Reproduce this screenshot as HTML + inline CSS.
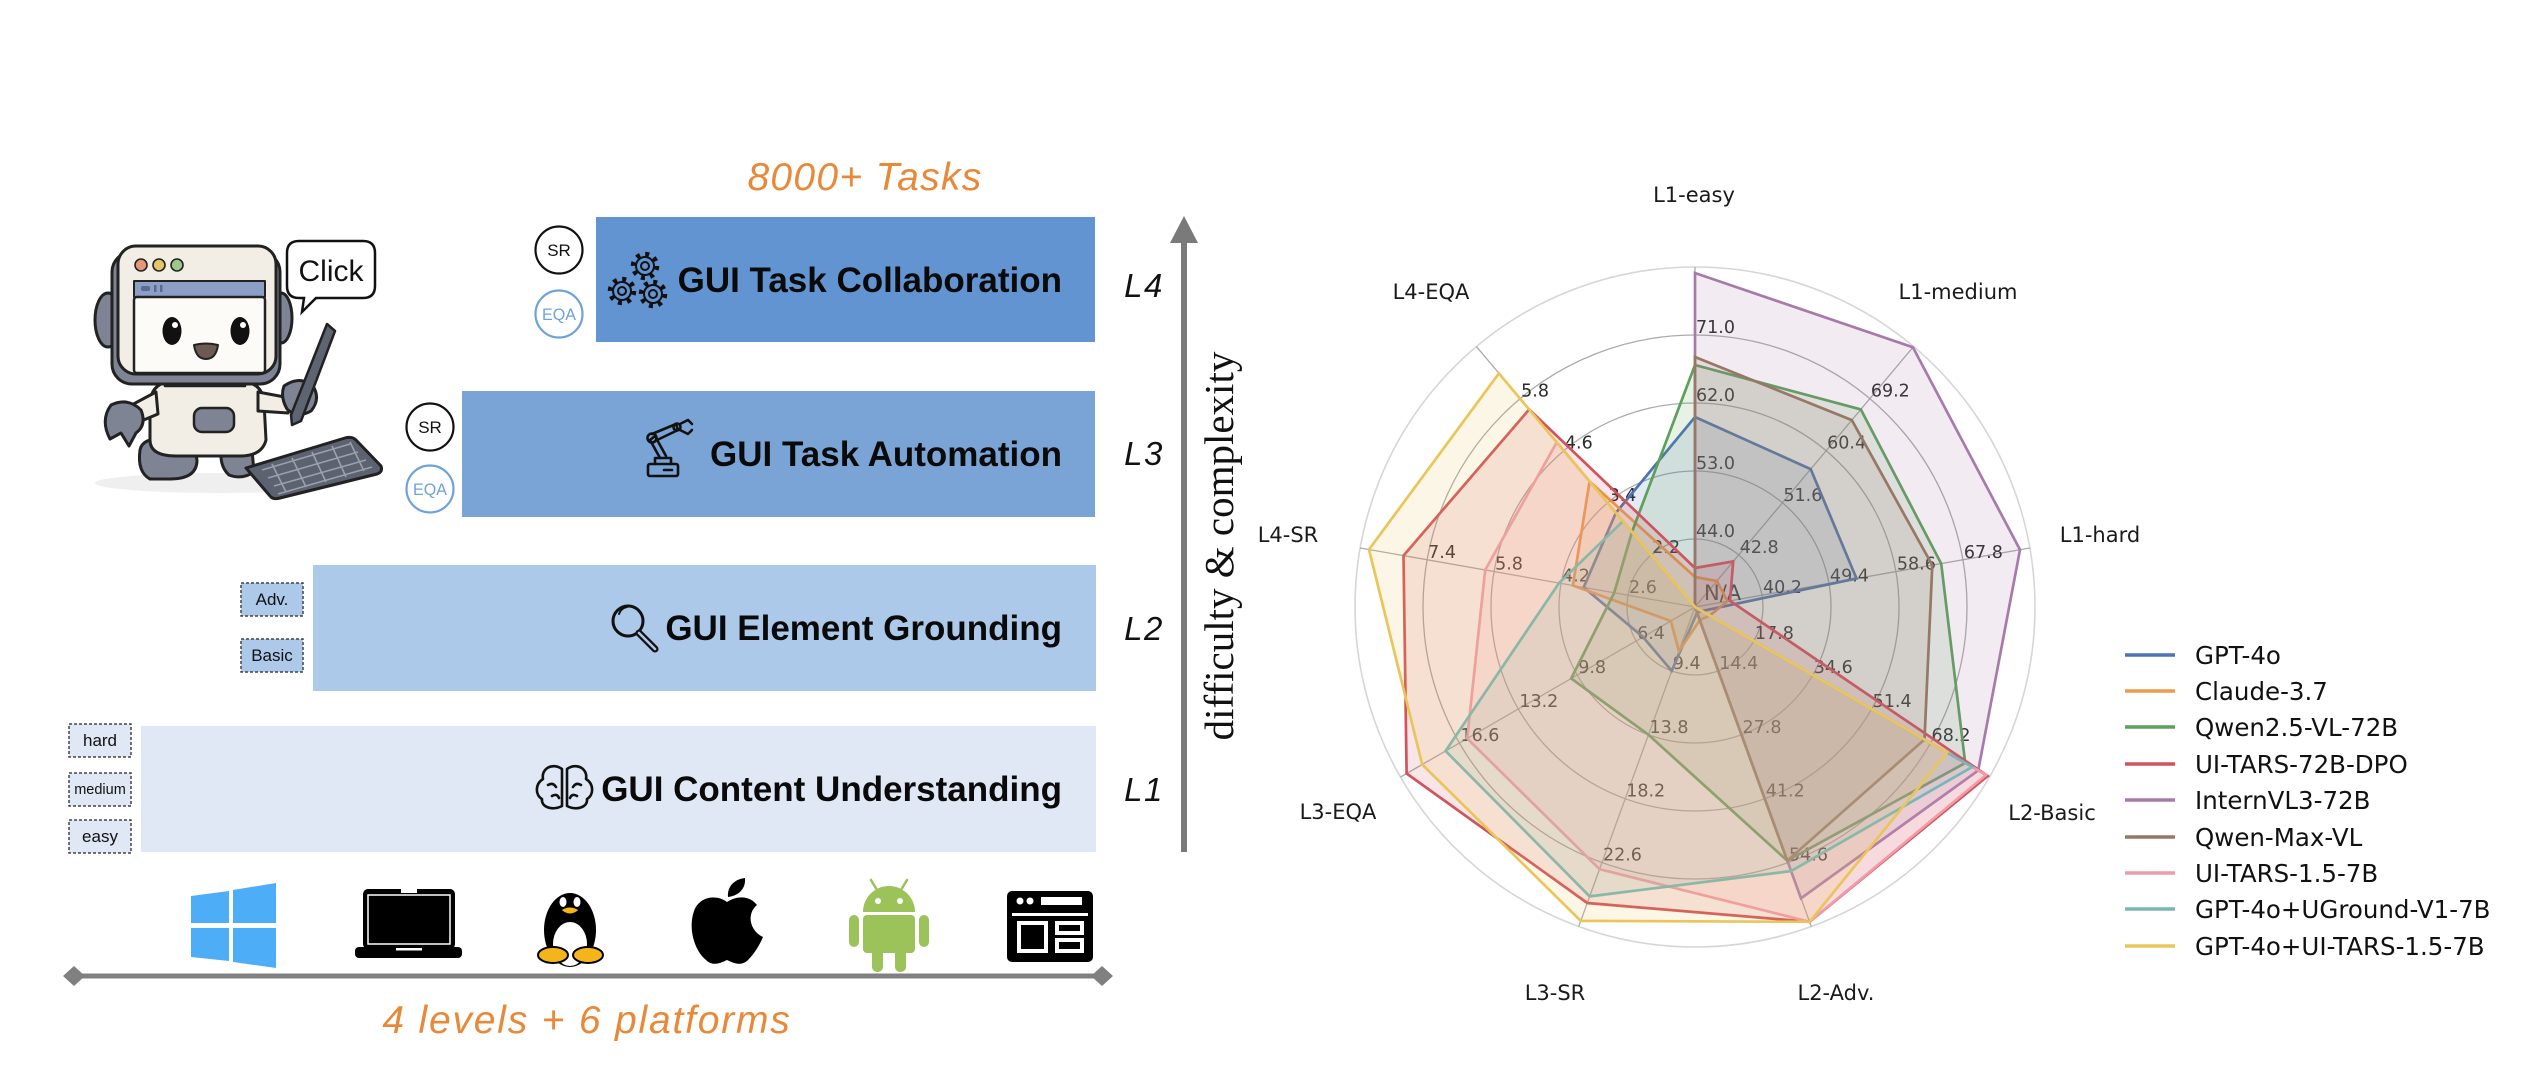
<!DOCTYPE html>
<html><head><meta charset="utf-8"><style>
html,body{margin:0;padding:0;background:#fff;}
body{width:2526px;height:1088px;overflow:hidden;}
svg{display:block;}
</style></head><body>
<svg width="2526" height="1088" viewBox="0 0 2526 1088" xmlns="http://www.w3.org/2000/svg">
<rect width="2526" height="1088" fill="#fff"/>

<!-- ============ LEFT PANEL ============ -->
<text x="865" y="190" text-anchor="middle" font-family="Liberation Sans, sans-serif" font-style="italic" font-size="39" letter-spacing="1.3" fill="#E8893A">8000+ Tasks</text>

<!-- level boxes -->
<rect x="596" y="217" width="499" height="125" fill="#6394D2"/>
<rect x="462" y="391" width="633" height="126" fill="#7BA4D6"/>
<rect x="313" y="565" width="783" height="126" fill="#ADC9E9"/>
<rect x="141" y="726" width="955" height="126" fill="#DFE8F4"/>

<g font-family="Liberation Sans, sans-serif" font-weight="bold" font-size="35" fill="#0a0a0a" text-anchor="end">
<text x="1062" y="292">GUI Task Collaboration</text>
<text x="1062" y="466">GUI Task Automation</text>
<text x="1062" y="640">GUI Element Grounding</text>
<text x="1062" y="801">GUI Content Understanding</text>
</g>

<!-- gears icon -->
<g fill="none" stroke="#111">
 <g transform="translate(645,266)"><circle r="12" stroke-width="4.5" stroke-dasharray="4 5.4"/><circle r="9" stroke-width="2"/><circle r="4" stroke-width="2"/></g>
 <g transform="translate(622,291)"><circle r="12" stroke-width="4.5" stroke-dasharray="4 5.4"/><circle r="9" stroke-width="2"/><circle r="4" stroke-width="2"/></g>
 <g transform="translate(653,294)"><circle r="12" stroke-width="4.5" stroke-dasharray="4 5.4"/><circle r="9" stroke-width="2"/><circle r="4" stroke-width="2"/></g>
</g>

<!-- robot arm icon -->
<g fill="none" stroke="#111" stroke-width="2.6" stroke-linecap="round" stroke-linejoin="round">
 <rect x="648" y="464" width="30" height="12" rx="2"/>
 <path d="M655,464 L655,458 L671,458 L671,464"/>
 <path d="M660,458 L650,440 L655,436 L666,456"/>
 <circle cx="652" cy="438" r="4.5"/>
 <path d="M652,434 L676,424 L678,430 L655,441"/>
 <circle cx="677" cy="427" r="3.5"/>
 <path d="M680,424 L688,420 L692,424"/>
 <path d="M680,430 L688,434 L692,430"/>
 <line x1="664" y1="470" x2="672" y2="470"/>
</g>

<!-- magnifier icon -->
<g fill="none" stroke="#111" stroke-linecap="round">
 <circle cx="628" cy="621" r="15" stroke-width="3"/>
 <path d="M619,614 Q621,608 627,607" stroke-width="2"/>
 <line x1="639" y1="633" x2="655" y2="649" stroke-width="7"/>
 <line x1="639" y1="633" x2="655" y2="649" stroke-width="2.5" stroke="#ADC9E9"/>
</g>

<!-- brain icon -->
<g fill="none" stroke="#111" stroke-width="2.6" stroke-linecap="round" stroke-linejoin="round">
 <path d="M562,769 C552,762 541,769 543,779 C535,784 535,795 542,799 C541,807 552,811 562,806 Z"/>
 <path d="M567,769 C577,762 588,769 586,779 C594,784 594,795 587,799 C588,807 577,811 567,806 Z"/>
 <path d="M548,785 Q553,782 556,787 M552,796 Q557,793 559,798 M581,785 Q576,782 573,787 M577,796 Q572,793 570,798"/>
</g>

<!-- L labels -->
<g font-family="Liberation Sans, sans-serif" font-style="italic" font-size="33" fill="#111" text-anchor="middle" letter-spacing="1.5">
<text x="1144" y="297">L4</text>
<text x="1144" y="465">L3</text>
<text x="1144" y="640">L2</text>
<text x="1144" y="801">L1</text>
</g>

<!-- vertical arrow -->
<line x1="1184" y1="238" x2="1184" y2="852" stroke="#7a7a7a" stroke-width="6"/>
<polygon points="1184,216 1170,243 1198,243" fill="#7a7a7a"/>
<text transform="translate(1233,546) rotate(-90)" text-anchor="middle" font-family="Liberation Serif, serif" font-size="41" fill="#111">difficulty &amp; complexity</text>

<!-- SR / EQA badges -->
<g font-family="Liberation Sans, sans-serif" text-anchor="middle">
 <circle cx="559" cy="250" r="23.5" fill="#fff" stroke="#111" stroke-width="2.2"/>
 <text x="559" y="256" font-size="17" fill="#111">SR</text>
 <circle cx="559" cy="314" r="23.5" fill="#fff" stroke="#6DA2DB" stroke-width="2.2"/>
 <text x="559" y="320" font-size="17" fill="#6DA2DB" textLength="34" lengthAdjust="spacingAndGlyphs">EQA</text>
 <circle cx="430" cy="427" r="23.5" fill="#fff" stroke="#111" stroke-width="2.2"/>
 <text x="430" y="433" font-size="17" fill="#111">SR</text>
 <circle cx="430" cy="489" r="23.5" fill="#fff" stroke="#6DA2DB" stroke-width="2.2"/>
 <text x="430" y="495" font-size="17" fill="#6DA2DB" textLength="34" lengthAdjust="spacingAndGlyphs">EQA</text>
</g>

<!-- dashed sub-boxes -->
<g stroke="#444" stroke-width="1.5" stroke-dasharray="3 2">
 <rect x="241" y="583" width="62" height="33" fill="#ADC9E9"/>
 <rect x="241" y="639" width="62" height="33" fill="#ADC9E9"/>
 <rect x="69" y="724" width="62" height="33" fill="#DFE8F4"/>
 <rect x="69" y="773" width="62" height="33" fill="#DFE8F4"/>
 <rect x="69" y="820" width="62" height="33" fill="#DFE8F4"/>
</g>
<g font-family="Liberation Sans, sans-serif" font-size="17" fill="#111" text-anchor="middle">
 <text x="272" y="605">Adv.</text>
 <text x="272" y="661">Basic</text>
 <text x="100" y="746">hard</text>
 <text x="100" y="794" font-size="14.5">medium</text>
 <text x="100" y="842">easy</text>
</g>

<!-- robot illustration -->
<ellipse cx="220" cy="483" rx="125" ry="10" fill="#efefef"/>
<g stroke="#222" stroke-width="3" stroke-linejoin="round" stroke-linecap="round">
 <path d="M140,450 Q142,438 165,438 Q194,440 197,460 Q197,479 170,479 L150,479 Q137,472 140,450 Z" fill="#7E8494"/>
 <path d="M222,445 Q240,438 252,450 L254,472 Q242,480 229,475 Q218,465 222,445 Z" fill="#7E8494"/>
 <path d="M150,402 Q152,381 176,381 L238,381 Q262,381 264,402 L266,440 Q262,456 240,456 L176,456 Q150,456 150,440 Z" fill="#F2EEE5"/>
 <rect x="194" y="408" width="40" height="24" rx="8" fill="#7E8494" stroke-width="2.5"/>
 <path d="M156,392 L126,408 L134,424 L158,414 Z" fill="#F2EEE5"/>
 <path d="M111,405 Q128,397 141,410 Q147,425 136,433 L129,446 L121,433 L110,439 Q100,420 111,405 Z" fill="#7E8494"/>
 <path d="M258,392 L290,398 L288,413 L258,411 Z" fill="#F2EEE5"/>
 <path d="M284,386 Q300,375 313,386 Q321,399 311,411 Q297,419 287,409 Q280,397 284,386 Z" fill="#7E8494"/>
 <path d="M327,324 L335,331 L301,421 L292,425 L291,415 Z" fill="#5E6472" stroke-width="2.5"/>
 <rect x="165" y="372" width="80" height="14" fill="#6E7585" stroke-width="2.5"/>
 <ellipse cx="108" cy="320" rx="13" ry="27" fill="#7E8494"/>
 <ellipse cx="281" cy="318" rx="11" ry="25" fill="#7E8494"/>
 <rect x="112" y="252" width="168" height="132" rx="20" fill="#7E8494"/>
 <rect x="118" y="246" width="158" height="128" rx="18" fill="#F2EEE5"/>
 <circle cx="141" cy="265" r="6" fill="#E8967A" stroke-width="1.6"/>
 <circle cx="159" cy="265" r="6" fill="#E6C46A" stroke-width="1.6"/>
 <circle cx="177" cy="265" r="6" fill="#9CC88C" stroke-width="1.6"/>
 <rect x="134" y="281" width="131" height="16" fill="#8C9DC6" stroke-width="2"/>
 <rect x="134" y="297" width="131" height="76" rx="3" fill="#FCFBF7" stroke-width="2.5"/>
 <path d="M194,345 Q206,342 218,345 Q216,359 206,359 Q196,359 194,345 Z" fill="#6E5A55" stroke-width="2"/>
 <path d="M246,468 L345,438 Q352,436 356,440 L381,466 Q383,472 377,474 L280,498 Q273,500 270,496 Z" fill="#5C6270"/>
</g>
<rect x="141" y="286" width="9" height="5" rx="2" fill="#5a6a90"/>
<rect x="154" y="285" width="2.5" height="7" fill="#5a6a90"/>
<rect x="160" y="285" width="2.5" height="7" fill="#5a6a90"/>
<ellipse cx="172" cy="331" rx="9.5" ry="14" fill="#111"/><circle cx="175" cy="325" r="3" fill="#fff"/>
<ellipse cx="240" cy="331" rx="9.5" ry="14" fill="#111"/><circle cx="243" cy="325" r="3" fill="#fff"/>
<g stroke="#9aa0ad" stroke-width="1.6">
 <line x1="262" y1="470" x2="350" y2="444"/>
 <line x1="268" y1="478" x2="358" y2="452"/>
 <line x1="274" y1="486" x2="366" y2="460"/>
 <line x1="278" y1="494" x2="372" y2="467"/>
 <line x1="272" y1="464" x2="286" y2="492"/>
 <line x1="292" y1="458" x2="306" y2="487"/>
 <line x1="312" y1="452" x2="326" y2="482"/>
 <line x1="332" y1="446" x2="346" y2="477"/>
 <line x1="350" y1="442" x2="364" y2="471"/>
</g>

<!-- speech bubble -->
<path d="M299,241 L363,241 Q375,241 375,253 L375,286 Q375,298 363,298 L316,298 L302,312 L304,298 L299,298 Q287,298 287,286 L287,253 Q287,241 299,241 Z" fill="#fff" stroke="#111" stroke-width="2.5"/>
<text x="331" y="281" text-anchor="middle" font-family="Liberation Sans, sans-serif" font-size="30" fill="#111">Click</text>

<!-- platform icons -->
<g fill="#4DADF6">
 <polygon points="191,896 229,891 229,923 191,923"/>
 <polygon points="191,928 229,928 229,961 191,957"/>
 <polygon points="233,890 276,883 276,923 233,923"/>
 <polygon points="233,928 276,928 276,968 233,962"/>
</g>
<!-- laptop -->
<rect x="363" y="889" width="92" height="60" rx="5" fill="#000"/>
<rect x="368" y="895" width="82" height="49" fill="none" stroke="#fff" stroke-width="1.5"/>
<rect x="401" y="889" width="16" height="4" fill="#fff"/>
<rect x="355" y="947" width="107" height="11" rx="4" fill="#000"/>
<rect x="396" y="948" width="26" height="2.5" fill="#fff"/>
<!-- tux -->
<g>
 <ellipse cx="570" cy="930" rx="26" ry="37" fill="#000"/>
 <ellipse cx="570" cy="944" rx="17" ry="22" fill="#fff"/>
 <ellipse cx="563" cy="902" rx="3.5" ry="5" fill="#fff"/>
 <ellipse cx="577" cy="902" rx="3.5" ry="5" fill="#fff"/>
 <path d="M561,910 Q570,904 579,910 Q570,918 561,910 Z" fill="#F3B51A" stroke="#000" stroke-width="1"/>
 <ellipse cx="553" cy="955" rx="15" ry="8" fill="#F3B51A" stroke="#000" stroke-width="2"/>
 <ellipse cx="588" cy="955" rx="15" ry="8" fill="#F3B51A" stroke="#000" stroke-width="2"/>
</g>
<!-- apple -->
<path d="M727,902 C718,895 700,895 694,911 C688,928 694,950 706,960 C712,966 719,964 727,960 C735,964 742,966 748,960 C755,953 760,944 763,937 C750,931 746,914 757,905 C750,896 738,895 727,902 Z" fill="#000"/>
<path d="M728,897 C727,886 735,879 745,878 C746,889 738,896 728,897 Z" fill="#000"/>
<!-- android -->
<g fill="#9BC35A">
 <path d="M863,912 A26,26 0 0 1 915,912 Z"/>
 <rect x="863" y="915" width="52" height="38" rx="4"/>
 <rect x="849" y="915" width="10" height="32" rx="5"/>
 <rect x="919" y="915" width="10" height="32" rx="5"/>
 <rect x="872" y="945" width="11" height="27" rx="5"/>
 <rect x="895" y="945" width="11" height="27" rx="5"/>
</g>
<g stroke="#9BC35A" stroke-width="2.5" stroke-linecap="round"><line x1="877" y1="890" x2="871" y2="880"/><line x1="901" y1="890" x2="907" y2="880"/></g>
<circle cx="878" cy="901" r="3" fill="#fff"/><circle cx="900" cy="901" r="3" fill="#fff"/>
<!-- web layout -->
<rect x="1007" y="891" width="86" height="71" rx="5" fill="#000"/>
<circle cx="1020" cy="901" r="3.5" fill="#fff"/>
<circle cx="1030" cy="901" r="3.5" fill="#fff"/>
<rect x="1041" y="897" width="41" height="8" fill="#fff"/>
<rect x="1012" y="913" width="76" height="3" fill="#fff"/>
<rect x="1019" y="923" width="27" height="28" fill="none" stroke="#fff" stroke-width="4"/>
<rect x="1057" y="923" width="25" height="10" fill="none" stroke="#fff" stroke-width="4"/>
<rect x="1057" y="940" width="25" height="11" fill="none" stroke="#fff" stroke-width="4"/>

<!-- horizontal double arrow -->
<line x1="80" y1="976" x2="1096" y2="976" stroke="#808080" stroke-width="5"/>
<polygon points="63,976 74,966 85,976 74,986" fill="#808080"/>
<polygon points="1091,976 1102,966 1113,976 1102,986" fill="#808080"/>
<text x="587" y="1033" text-anchor="middle" font-family="Liberation Sans, sans-serif" font-style="italic" font-size="39" letter-spacing="1.8" fill="#E8893A">4 levels + 6 platforms</text>

<!-- ============ RADAR CHART ============ -->
<g transform="translate(1695,607)">
 <circle r="340" fill="none" stroke="#d6d6d6" stroke-width="1.6"/>
 <g fill="none" stroke="#ababab" stroke-width="1.3">
  <circle r="68"/><circle r="136"/><circle r="204"/><circle r="272"/>
 </g>
 <g stroke="#ababab" stroke-width="1.3">
  <line x2="340" transform="rotate(-90)"/>
  <line x2="340" transform="rotate(-50)"/>
  <line x2="340" transform="rotate(-10)"/>
  <line x2="340" transform="rotate(30)"/>
  <line x2="340" transform="rotate(70)"/>
  <line x2="340" transform="rotate(110)"/>
  <line x2="340" transform="rotate(150)"/>
  <line x2="340" transform="rotate(190)"/>
  <line x2="340" transform="rotate(230)"/>
 </g>
 <!-- tick labels -->
 <g font-family="DejaVu Sans, sans-serif" font-size="17.5" fill="#2a2a2a">
  <text transform="rotate(-90) translate(68,0) rotate(90)" x="1" y="-2">44.0</text>
  <text transform="rotate(-90) translate(136,0) rotate(90)" x="1" y="-2">53.0</text>
  <text transform="rotate(-90) translate(204,0) rotate(90)" x="1" y="-2">62.0</text>
  <text transform="rotate(-90) translate(272,0) rotate(90)" x="1" y="-2">71.0</text>
  <text transform="rotate(-50) translate(68,0) rotate(50)" x="1" y="-2">42.8</text>
  <text transform="rotate(-50) translate(136,0) rotate(50)" x="1" y="-2">51.6</text>
  <text transform="rotate(-50) translate(204,0) rotate(50)" x="1" y="-2">60.4</text>
  <text transform="rotate(-50) translate(272,0) rotate(50)" x="1" y="-2">69.2</text>
  <text transform="rotate(-10) translate(68,0) rotate(10)" x="1" y="-2">40.2</text>
  <text transform="rotate(-10) translate(136,0) rotate(10)" x="1" y="-2">49.4</text>
  <text transform="rotate(-10) translate(204,0) rotate(10)" x="1" y="-2">58.6</text>
  <text transform="rotate(-10) translate(272,0) rotate(10)" x="1" y="-2">67.8</text>
  <text transform="rotate(30) translate(68,0) rotate(-30)" x="1" y="-2">17.8</text>
  <text transform="rotate(30) translate(136,0) rotate(-30)" x="1" y="-2">34.6</text>
  <text transform="rotate(30) translate(204,0) rotate(-30)" x="1" y="-2">51.4</text>
  <text transform="rotate(30) translate(272,0) rotate(-30)" x="1" y="-2">68.2</text>
  <text transform="rotate(70) translate(68,0) rotate(-70)" x="1" y="-2">14.4</text>
  <text transform="rotate(70) translate(136,0) rotate(-70)" x="1" y="-2">27.8</text>
  <text transform="rotate(70) translate(204,0) rotate(-70)" x="1" y="-2">41.2</text>
  <text transform="rotate(70) translate(272,0) rotate(-70)" x="1" y="-2">54.6</text>
  <text transform="rotate(110) translate(68,0) rotate(-110)" x="1" y="-2">9.4</text>
  <text transform="rotate(110) translate(136,0) rotate(-110)" x="1" y="-2">13.8</text>
  <text transform="rotate(110) translate(204,0) rotate(-110)" x="1" y="-2">18.2</text>
  <text transform="rotate(110) translate(272,0) rotate(-110)" x="1" y="-2">22.6</text>
  <text transform="rotate(150) translate(68,0) rotate(-150)" x="1" y="-2">6.4</text>
  <text transform="rotate(150) translate(136,0) rotate(-150)" x="1" y="-2">9.8</text>
  <text transform="rotate(150) translate(204,0) rotate(-150)" x="1" y="-2">13.2</text>
  <text transform="rotate(150) translate(272,0) rotate(-150)" x="1" y="-2">16.6</text>
  <text transform="rotate(190) translate(68,0) rotate(-190)" x="1" y="-2">2.6</text>
  <text transform="rotate(190) translate(136,0) rotate(-190)" x="1" y="-2">4.2</text>
  <text transform="rotate(190) translate(204,0) rotate(-190)" x="1" y="-2">5.8</text>
  <text transform="rotate(190) translate(272,0) rotate(-190)" x="1" y="-2">7.4</text>
  <text transform="rotate(230) translate(68,0) rotate(-230)" x="1" y="-2">2.2</text>
  <text transform="rotate(230) translate(136,0) rotate(-230)" x="1" y="-2">3.4</text>
  <text transform="rotate(230) translate(204,0) rotate(-230)" x="1" y="-2">4.6</text>
  <text transform="rotate(230) translate(272,0) rotate(-230)" x="1" y="-2">5.8</text>
  <text x="9" y="-7" font-size="21">N/A</text>
 </g>
 <!-- data polygons -->
 <g stroke-width="2.7" stroke-linejoin="miter" fill-opacity="0.15">
  <polygon fill="#4C74B2" stroke="#4C74B2" points="0,-190 115.7,-137.9 161.5,-28.5 6.9,4 2.1,5.6 -23.3,63.9 -52,30 -111.3,-19.6 -79.1,-94.2"/>
  <polygon fill="#EE9A4D" stroke="#EE9A4D" points="0,-30 21.9,-26 32.5,-5.7 14.7,8.5 4.8,13.2 -16.1,44.2 -24.2,14 -122.1,-21.5 -105.4,-125.6"/>
  <polygon fill="#5CA05A" stroke="#5CA05A" points="0,-242 165.8,-197.6 246.2,-43.4 270.2,156 92.3,253.7 -46.5,127.8 -123.8,71.5 -80.8,-14.2 -63,-75.1"/>
  <polygon fill="#D1535B" stroke="#D1535B" points="0,-39 38.2,-45.6 35,-6.2 292.7,169 114.6,314.8 -107.7,296 -288.4,166.5 -291.5,-51.4 -165.8,-197.6"/>
  <polygon fill="#A67BAA" stroke="#A67BAA" points="0,-334 217.9,-259.7 325,-57.3 283.2,163.5 106,291.3 0,0 0,0 0,0 0,0"/>
  <polygon fill="#977766" stroke="#977766" points="0,-250 156.8,-186.9 237.3,-41.8 229.5,132.5 92.3,253.7 0,0 0,0 0,0 0,0"/>
  <polygon fill="#F09BAA" stroke="#F09BAA" points="0,0 0,0 0,0 291,168 114.6,314.8 -95.4,262.2 -227.8,131.5 -209.8,-37 -138.2,-164.7"/>
  <polygon fill="#78B7B6" stroke="#78B7B6" points="0,0 0,0 0,0 277.1,160 96.1,264.1 -105.3,289.4 -249.4,144 -135.9,-24 -72,-85.8"/>
  <polygon fill="#E9C55A" stroke="#E9C55A" points="0,0 0,0 0,0 252,145.5 114.6,314.8 -114.2,313.9 -272.8,157.5 -326,-57.5 -196.1,-233.6"/>
 </g>
</g>

<!-- radar axis labels -->
<g font-family="DejaVu Sans, sans-serif" font-size="21" fill="#1a1a1a" text-anchor="middle">
 <text x="1694" y="202">L1-easy</text>
 <text x="1958" y="299">L1-medium</text>
 <text x="2100" y="542">L1-hard</text>
 <text x="2052" y="820">L2-Basic</text>
 <text x="1836" y="1000">L2-Adv.</text>
 <text x="1555" y="1000">L3-SR</text>
 <text x="1338" y="819">L3-EQA</text>
 <text x="1288" y="542">L4-SR</text>
 <text x="1431" y="299">L4-EQA</text>
</g>

<!-- legend -->
<g stroke-width="3.5">
 <line x1="2125" y1="655" x2="2175" y2="655" stroke="#4C74B2"/>
 <line x1="2125" y1="691" x2="2175" y2="691" stroke="#EE9A4D"/>
 <line x1="2125" y1="727" x2="2175" y2="727" stroke="#5CA05A"/>
 <line x1="2125" y1="764" x2="2175" y2="764" stroke="#D1535B"/>
 <line x1="2125" y1="800" x2="2175" y2="800" stroke="#A67BAA"/>
 <line x1="2125" y1="837" x2="2175" y2="837" stroke="#977766"/>
 <line x1="2125" y1="873" x2="2175" y2="873" stroke="#F09BAA"/>
 <line x1="2125" y1="909" x2="2175" y2="909" stroke="#78B7B6"/>
 <line x1="2125" y1="946" x2="2175" y2="946" stroke="#E9C55A"/>
</g>
<g font-family="DejaVu Sans, sans-serif" font-size="24.5" fill="#111">
 <text x="2195" y="664">GPT-4o</text>
 <text x="2195" y="700">Claude-3.7</text>
 <text x="2195" y="736">Qwen2.5-VL-72B</text>
 <text x="2195" y="773">UI-TARS-72B-DPO</text>
 <text x="2195" y="809">InternVL3-72B</text>
 <text x="2195" y="846">Qwen-Max-VL</text>
 <text x="2195" y="882">UI-TARS-1.5-7B</text>
 <text x="2195" y="918">GPT-4o+UGround-V1-7B</text>
 <text x="2195" y="955">GPT-4o+UI-TARS-1.5-7B</text>
</g>
</svg>
</body></html>
